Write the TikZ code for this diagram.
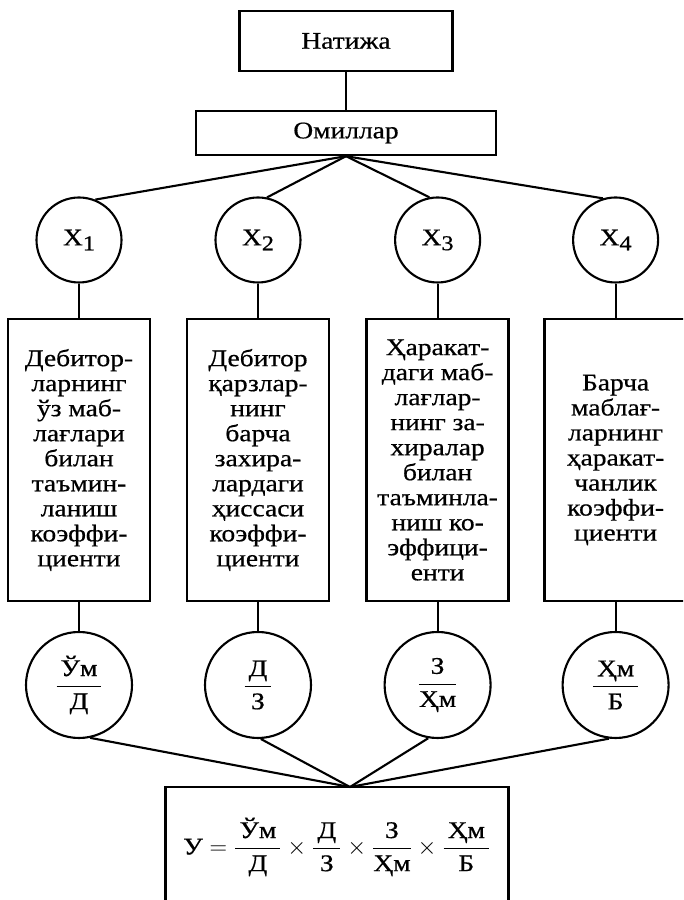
\documentclass[tikz,border=0pt]{standalone}
\usepackage{amsmath}
\usepackage{fontspec}
\setmainfont{Liberation Serif}[FakeStretch=1.15, FakeBold=0.6]
\usepackage{tikz}

\newcommand{\xsub}[1]{X\raisebox{-0.45ex}{\fontsize{15}{15}\selectfont #1}}
\newcommand{\rat}[2]{\ensuremath{\dfrac{\,\text{#1}\,}{\text{#2}}}}

\begin{document}
\begin{tikzpicture}[
  every node/.style={font=\fontsize{17}{17.8}\selectfont},
  headbox/.style={draw=black, line width=1.7pt, inner sep=0pt},
  factv/.style={circle, draw=black, line width=1.5pt, inner sep=0pt, minimum size=21.25mm},
  ratv/.style={circle, draw=black, line width=1.5pt, inner sep=0pt, minimum size=26.5mm},
  descbox/.style={draw=black, line width=1.7pt, align=center, inner sep=0pt, minimum width=35.5mm, minimum height=70.5mm},
  link/.style={draw=black, line width=1.5pt}
]
\useasboundingbox (0,0) rectangle (17.075,22.5);
\clip (0,0) rectangle (17.075,22.5);

\node[headbox, minimum width=53.25mm, minimum height=15mm] (head) at (8.65, 21.475) {Натижа};
\node[headbox, minimum width=75mm, minimum height=11mm] (omil) at (8.65, 19.175) {Омиллар};
\node[factv] (x1) at (1.975, 16.5) {\xsub{1}};
\node[factv] (x2) at (6.45, 16.5) {\xsub{2}};
\node[factv] (x3) at (10.94, 16.5) {\xsub{3}};
\node[factv] (x4) at (15.39, 16.5) {\xsub{4}};
\node[descbox] (d1) at (1.975, 11.0) {Дебитор-\\ларнинг\\ўз маб-\\лағлари\\билан\\таъмин-\\ланиш\\коэффи-\\циенти};
\node[descbox] (d2) at (6.45, 11.0) {Дебитор\\қарзлар-\\нинг\\барча\\захира-\\лардаги\\ҳиссаси\\коэффи-\\циенти};
\node[descbox] (d3) at (10.94, 11.0) {Ҳаракат-\\даги маб-\\лағлар-\\нинг за-\\хиралар\\билан\\таъминла-\\ниш ко-\\эффици-\\енти};
\node[descbox] (d4) at (15.39, 11.0) {Барча\\маблағ-\\ларнинг\\ҳаракат-\\чанлик\\коэффи-\\циенти};
\node[ratv] (r1) at (1.975, 5.375) {\rat{Ўм}{Д}};
\node[ratv] (r2) at (6.45, 5.375) {\rat{Д}{З}};
\node[ratv] (r3) at (10.94, 5.375) {\rat{З}{Ҳм}};
\node[ratv] (r4) at (15.39, 5.375) {\rat{Ҳм}{Б}};
\node[headbox, minimum width=85.75mm, minimum height=30mm] (res) at (8.425, 1.325)
  {$\text{У} = \rat{Ўм}{Д} \times \rat{Д}{З} \times \rat{З}{Ҳм} \times \rat{Ҳм}{Б}$};
\coordinate (meet) at (8.75, 2.825);

\draw[link] (head.south) -- (omil.north);
\draw[link] (omil.south) -- (x1.68);
\draw[link] (omil.south) -- (x2.78);
\draw[link] (omil.south) -- (x3.101);
\draw[link] (omil.south) -- (x4.107);
\draw[link] (x1.south) -- (d1.north);
\draw[link] (x2.south) -- (d2.north);
\draw[link] (x3.south) -- (d3.north);
\draw[link] (x4.south) -- (d4.north);
\draw[link] (d1.south) -- (r1.north);
\draw[link] (d2.south) -- (r2.north);
\draw[link] (d3.south) -- (r3.north);
\draw[link] (d4.south) -- (r4.north);
\draw[link] (r1.-78) -- (meet);
\draw[link] (r2.-87) -- (meet);
\draw[link] (r3.-100) -- (meet);
\draw[link] (r4.-97) -- (meet);

\end{tikzpicture}
\end{document}
